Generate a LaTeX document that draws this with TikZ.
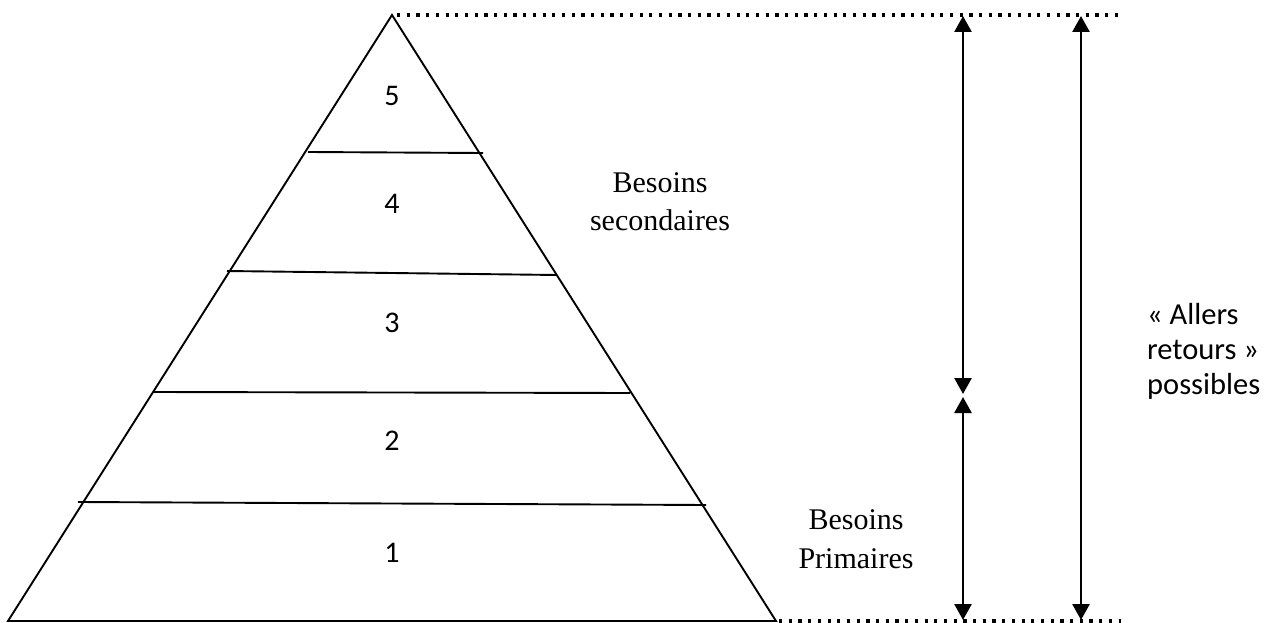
\documentclass[tikz,border=0pt]{standalone}
\usepackage{fontspec}
\setmainfont{Carlito}
\newfontfamily\timesf{Liberation Serif}
\usetikzlibrary{arrows.meta}
\begin{document}
\begin{tikzpicture}[x=1pt,y=-1pt,
  edge/.style={line width=1.9pt,line join=miter},
  level/.style={line width=1.9pt},
  dots/.style={line width=3.2pt,dash pattern=on 3.2pt off 6.5pt},
  dbl/.style={line width=2.6pt,{Triangle[length=16pt,width=17pt]}-{Triangle[length=16pt,width=17pt]}},
  num/.style={font=\fontsize{30}{36}\selectfont,anchor=base,inner sep=0pt},
  tim/.style={font=\timesf\fontsize{30}{36}\selectfont,anchor=base,inner sep=0pt},
  cal/.style={font=\fontsize{30.5}{36}\selectfont,anchor=base west,inner sep=0pt}]
\useasboundingbox (0,0) rectangle (1270,623);
\fill[white] (0,0) rectangle (1270,623);
% pyramid
\coordinate (A) at (392,15);
\coordinate (BL) at (8,621);
\coordinate (BR) at (776,621);
\draw[edge] (A) -- (BL) -- (BR) -- cycle;
% levels
\coordinate (l4a) at (308,152); \coordinate (l4b) at (483,153);
\coordinate (l3a) at (227,271); \coordinate (l3b) at (557,275);
\coordinate (l2a) at (153,392); \coordinate (l2b) at (630,393);
\coordinate (l1a) at (78,502);  \coordinate (l1b) at (706,505);
\draw[level] (l4a) -- (l4b);
\draw[level] (l3a) -- (l3b);
\draw[level] (l2a) -- (l2b);
\draw[level] (l1a) -- (l1b);
% numbers
\node[num] (n5) at (392,106) {5};
\node[num] (n4) at (392,214) {4};
\node[num] (n3) at (392,332) {3};
\node[num] (n2) at (392,450) {2};
\node[num] (n1) at (392,562) {1};
% dotted guides
\coordinate (T0) at (397,15);
\coordinate (T1) at (1121,15);
\coordinate (U0) at (779,621);
\coordinate (U1) at (1121,621);
\draw[dots] (T0) -- (T1);
\draw[dots] (U0) -- (U1);
% arrows
\coordinate (a1t) at (963,16);
\coordinate (a1m) at (963,394);
\coordinate (a1n) at (963,397);
\coordinate (a1b) at (963,620);
\coordinate (a2t) at (1081,16);
\coordinate (a2b) at (1081,620);
\draw[dbl] (a1t) -- (a1m);
\draw[dbl] (a1n) -- (a1b);
\draw[dbl] (a2t) -- (a2b);
% labels
\node[tim] (bs1) at (660,193) {Besoins};
\node[tim] (bs2) at (660,230) {secondaires};
\node[tim] (bp1) at (856,529) {Besoins};
\node[tim] (bp2) at (856,568) {Primaires};
\node[cal] (ar1) at (1147,324) {« Allers};
\node[cal] (ar2) at (1147,359) {retours »};
\node[cal] (ar3) at (1147,394) {possibles};
\end{tikzpicture}
\end{document}
